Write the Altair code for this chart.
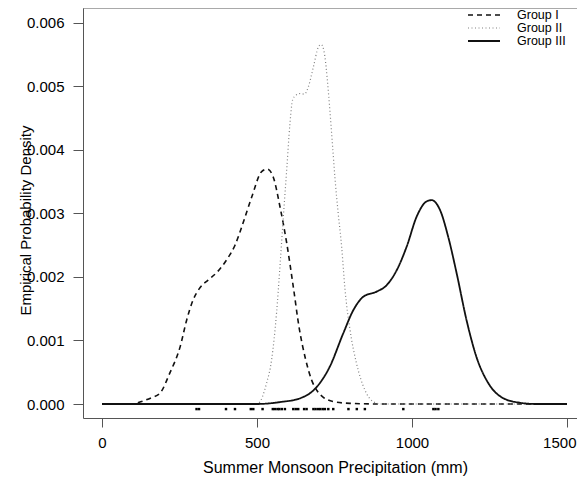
import altair as alt
import pandas as pd

# ---- data ----
g1_x = [0, 100, 128, 160, 187, 219, 252, 273, 294, 316, 342, 370, 402, 429, 455, 483, 515,
        533, 552, 574, 596, 617, 636, 657, 676, 695, 713, 745, 800, 900, 1500]
g1_y = [0, 0, 0.00004, 0.0001, 0.00017, 0.00049, 0.0009, 0.00132, 0.00164, 0.00183, 0.00195,
        0.00207, 0.00227, 0.0025, 0.00285, 0.00326, 0.00366, 0.0037, 0.00358, 0.00311, 0.00253,
        0.00185, 0.0012, 0.0007, 0.00038, 0.0002, 0.00011, 0.00004, 0.00001, 0, 0]

g2_x = [0, 480, 503, 531, 547, 563, 574, 585, 596, 606, 615, 625, 639, 653, 666, 682, 698,
        707, 712, 719, 727, 735, 744, 752, 762, 773, 784, 800, 821, 848, 874, 900, 1500]
g2_y = [0, 0, 0.00001, 0.00033, 0.00069, 0.00143, 0.00216, 0.00295, 0.0037, 0.0044, 0.00479,
        0.00486, 0.00489, 0.00488, 0.005, 0.00531, 0.00562, 0.00566, 0.00563, 0.00547, 0.0051,
        0.00463, 0.00405, 0.00353, 0.003, 0.00248, 0.0018, 0.00117, 0.00064, 0.00022, 0.00004,
        0, 0]

g3_x = [0, 500, 574, 639, 693, 735, 778, 811, 843, 886, 918, 951, 983, 1015, 1047, 1063,
        1090, 1117, 1144, 1176, 1208, 1246, 1295, 1348, 1400, 1500]
g3_y = [0, 0, 0.00003, 0.00009, 0.00027, 0.00059, 0.00111, 0.00148, 0.00169, 0.00177,
        0.00187, 0.00211, 0.00248, 0.00295, 0.00319, 0.00321, 0.00306, 0.00263, 0.00206,
        0.00132, 0.00074, 0.00033, 0.00009, 0.00002, 0, 0]

rug_x = [305, 313, 400, 429, 480, 488, 518, 551, 558, 566, 572, 580, 590, 617, 625, 633,
         652, 660, 682, 689, 697, 704, 712, 719, 730, 746, 795, 822, 848, 972, 1069, 1076, 1085]

groups = ["Group I", "Group II", "Group III"]
x_ticks = [0, 500, 1000, 1500]
y_ticks = [0, 0.001, 0.002, 0.003, 0.004, 0.005, 0.006]

# line styles per group
dashes = [[5, 4], [1, 2.5], [1, 0]]
colors = ["#111111", "#808080", "#111111"]
widths = [1.6, 1.2, 1.8]

FONT = "Liberation Sans"
xscale = alt.Scale(domain=[-61.3, 1532.3], nice=False, zero=False)
yscale = alt.Scale(domain=[-0.00022047, 0.0062362], nice=False, zero=False)

x_enc = alt.X("x:Q", scale=xscale,
              axis=alt.Axis(values=x_ticks, format="d",
                            title="Summer Monsoon Precipitation (mm)",
                            titleX=252, titleY=54, titleBaseline="alphabetic",
                            labelPadding=8, tickSize=9, labelFlush=15,
                            labelFlushOffset=9))
y_enc = alt.Y("y:Q", scale=yscale,
              axis=alt.Axis(values=y_ticks, format=".3f",
                            title="Empirical Probability Density",
                            titleX=-58, titleY=212, titleAlign="center",
                            titleBaseline="middle", labelPadding=9, tickSize=10))

layers = []
for k, (xs, ys) in enumerate(zip([g1_x, g2_x, g3_x], [g1_y, g2_y, g3_y])):
    df = pd.DataFrame({"x": xs, "y": ys})
    layers.append(
        alt.Chart(df).mark_line(interpolate="monotone", strokeDash=dashes[k],
                                color=colors[k], strokeWidth=widths[k]).encode(
            x=x_enc, y=y_enc)
    )

rug = pd.DataFrame({"x": rug_x})
layers.append(
    alt.Chart(rug).mark_square(size=6, color="black", opacity=1).encode(
        x=alt.X("x:Q", scale=xscale), y=alt.datum(-0.00008))
)

# top edge of the frame
one = pd.DataFrame({"k": [0]})
layers.append(alt.Chart(one).mark_rule(color="#555555", strokeWidth=1).encode(
    y=alt.value(0)))

# legend (drawn at the top right, inside the frame)
for k, g in enumerate(groups):
    row_y = 7 + 13 * k
    row = pd.DataFrame({"group": [g]})
    layers.append(
        alt.Chart(row).mark_rule(strokeDash=dashes[k], color=colors[k],
                                 strokeWidth=widths[k]).encode(
            x=alt.value(385), x2=alt.value(417), y=alt.value(row_y))
    )
    layers.append(
        alt.Chart(row).mark_text(align="left", baseline="middle",
                                 font=FONT, fontSize=12.5, color="black").encode(
            text="group:N", x=alt.value(434), y=alt.value(row_y))
    )

chart = alt.layer(*layers).properties(
    width=494, height=410,
    autosize=alt.AutoSizeParams(type="none"),
    padding={"left": 75, "top": 0, "right": 0, "bottom": 58},
).configure_view(stroke=None).configure_axis(
    labelFont=FONT, titleFont=FONT, labelFontSize=15, titleFontSize=15,
    titleFontWeight="normal", labelColor="black", titleColor="black",
    domainColor="#555555", tickColor="#555555", grid=False,
).configure_axisX(titleFontSize=16)

chart.save("out.html", embed_options={"renderer": "svg", "actions": False})
